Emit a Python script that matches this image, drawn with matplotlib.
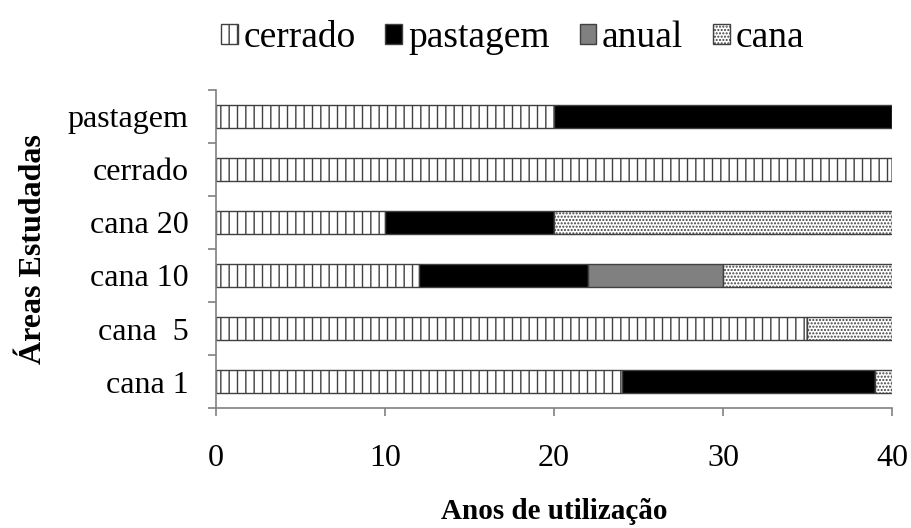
import numpy as np
import matplotlib.pyplot as plt
from matplotlib.patches import Patch

plt.rcParams['font.family'] = ['Liberation Serif', 'DejaVu Serif']
plt.rcParams['hatch.linewidth'] = 1.0

# areas (bottom to top) and years of each land use
areas = ['cana 1', 'cana  5', 'cana 10', 'cana 20', 'cerrado', 'pastagem']
cerrado = [24, 35, 12, 10, 40, 20]
pastagem = [15, 0, 10, 10, 0, 20]
anual = [0, 0, 8, 0, 0, 0]
cana = [1, 5, 10, 20, 0, 0]

series = [('cerrado', cerrado, 'white', '||'),
          ('pastagem', pastagem, 'black', None),
          ('anual', anual, '#808080', None),
          ('cana', cana, 'white', '.....')]

fig = plt.figure(figsize=(9.12, 5.28), dpi=100)
ax = fig.add_axes([0.237, 0.227, 0.741, 0.603])

y = np.arange(len(areas))
left = np.zeros(len(areas))
for name, vals, col, hatch in series:
    vals = np.array(vals, dtype=float)
    ax.barh(y, vals, left=left, height=0.43, color=col, edgecolor='#404040',
            linewidth=1.0, hatch=hatch, label=name)
    left += vals

ax.set_xlim(0, 40)
ax.set_ylim(-0.5, len(areas) - 0.5)
ax.set_xticks([0, 10, 20, 30, 40])
ax.set_yticks(y)
ax.set_yticklabels(areas)
ax.set_yticks(np.arange(-0.5, len(areas)), minor=True)
ax.tick_params(axis='y', which='major', length=0, pad=20, labelsize=23)
ax.tick_params(axis='y', which='minor', length=6, color='#808080', width=1.2)
ax.tick_params(axis='x', length=6, color='#808080', width=1.2, pad=20, labelsize=23)

for s in ['top', 'right']:
    ax.spines[s].set_visible(False)
for s in ['left', 'bottom']:
    ax.spines[s].set_color('#808080')
    ax.spines[s].set_linewidth(1.2)

ax.set_xlabel('Anos de utilização', fontsize=21, fontweight='bold', labelpad=18)
ax.set_ylabel('Áreas Estudadas', fontsize=23, fontweight='bold', labelpad=14)

handles = [Patch(facecolor=c, edgecolor='#404040', hatch=h, label=n)
           for n, v, c, h in series]
fig.legend(handles=handles, loc='upper center', bbox_to_anchor=(0.562, 1.01),
           ncol=4, frameon=False, fontsize=27, handlelength=0.45, handleheight=0.45,
           handletextpad=0.15, columnspacing=0.8, borderpad=0.2)

fig.savefig('out.png', dpi=100)
